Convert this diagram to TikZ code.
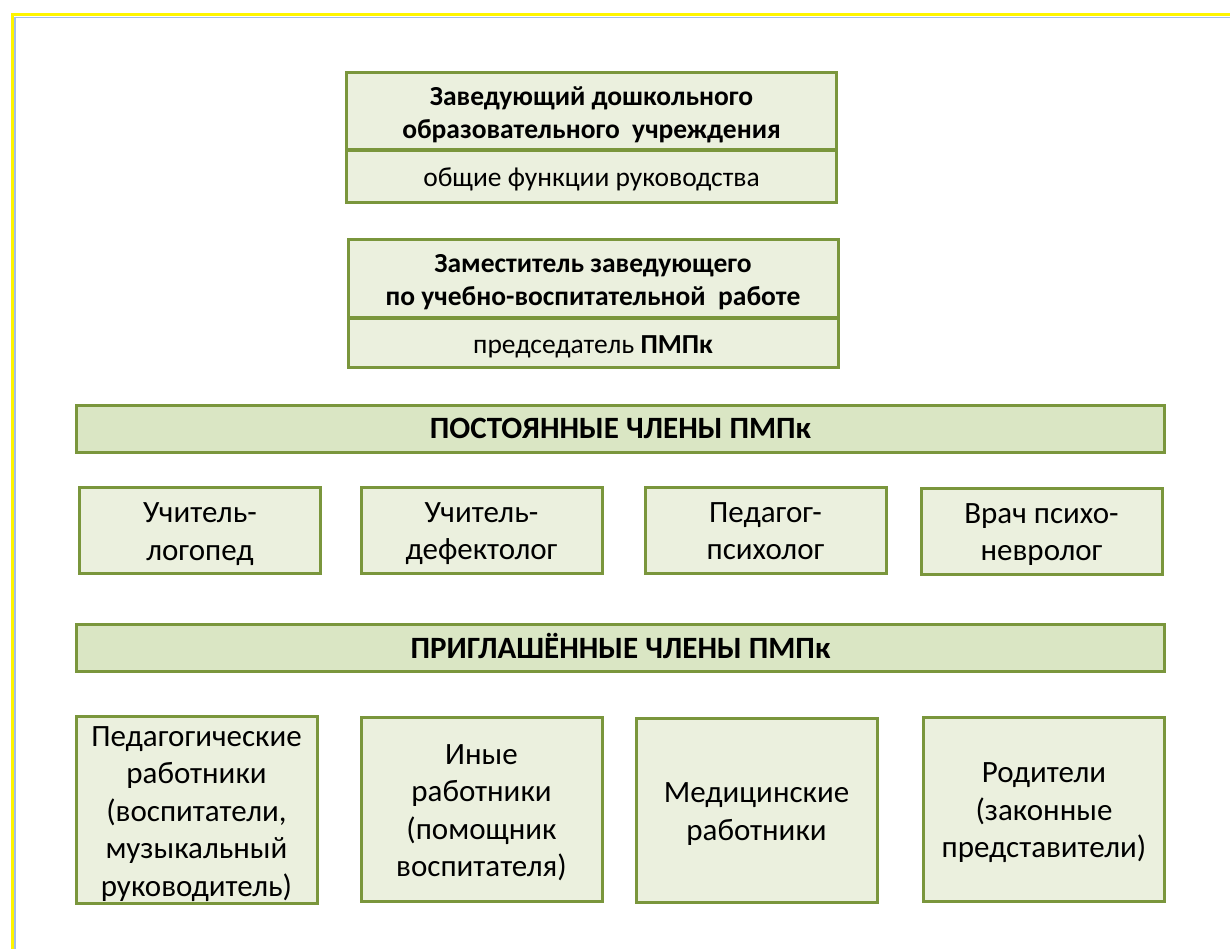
\documentclass[tikz,border=0pt]{standalone}
\usepackage{fontspec}
\setmainfont{Carlito}
\definecolor{pmpkline}{RGB}{122,150,60}
\definecolor{pmpkfill}{RGB}{235,240,222}
\definecolor{barfill}{RGB}{218,230,196}
\definecolor{frameyellow}{RGB}{255,245,0}
\definecolor{frameblue}{RGB}{165,190,230}
% lines of a cell, centred; optional argument lowers them
\newcommand{\celltext}[2][3.5pt]{\raisebox{-#1}[\height][\depth]{\begin{tabular}{@{}c@{}}#2\end{tabular}}}
\tikzset{
  cell/.style={draw=pmpkline, fill=pmpkfill, line width=3pt, inner sep=0pt,
    font=\fontsize{31}{37.5}\selectfont},
  headcell/.style={cell, minimum width=490pt, font=\bfseries\fontsize{27.5}{33}\selectfont},
  subcell/.style={cell, minimum width=490pt, font=\fontsize{27.5}{33}\selectfont},
  bar/.style={cell, fill=barfill, minimum width=1088pt, minimum height=47pt,
    font=\bfseries\fontsize{31}{33}\selectfont},
  member/.style={cell, minimum width=241pt, minimum height=86pt},
  guest/.style={cell, minimum width=241pt, minimum height=184pt},
}
\begin{document}
\begin{tikzpicture}[x=1pt,y=1pt,yscale=-1]
\useasboundingbox (0,0) rectangle (1230,949);

%frame
\draw [frameblue, line width=1.5pt] (15,949) -- (15,17.5) -- (1230,17.5);
\draw [frameyellow, line width=2.5pt] (12.5,949) -- (12.5,14.5) -- (1230,14.5);

%head
\node [headcell, minimum height=77pt] (zav) at (591.5,111) {\celltext[4pt]{Заведующий дошкольного\\образовательного~ учреждения}};
\node [subcell, minimum height=52pt] (zavfn) at (591.5,176.5) {\celltext{общие функции руководства}};
\node [headcell, minimum height=77pt] (zam) at (593,278.5) {\celltext[4pt]{Заместитель заведующего\\по учебно-воспитательной~ работе}};
\node [subcell, minimum height=49pt] (zamfn) at (593,343) {\celltext{председатель \textbf{ПМПк}}};

%permanent members
\node [bar] (perm) at (620.5,428.5) {\celltext{ПОСТОЯННЫЕ ЧЛЕНЫ ПМПк}};
\node [member] (logo) at (200,530.5) {\celltext{Учитель-\\логопед}};
\node [member] (defe) at (481.5,530) {\celltext{Учитель-\\дефектолог}};
\node [member] (psych) at (765.5,530) {\celltext{Педагог-\\психолог}};
\node [member] (neuro) at (1041.5,531) {\celltext{Врач психо-\\невролог}};

%invited members
\node [bar] (inv) at (620.5,647.5) {\celltext{ПРИГЛАШЁННЫЕ ЧЛЕНЫ ПМПк}};
\node [guest] (ped) at (196.5,810) {\celltext{Педагогические\\работники\\(воспитатели,\\музыкальный\\руководитель)}};
\node [guest] (other) at (481.5,809.5) {\celltext{Иные\\работники\\(помощник\\воспитателя)}};
\node [guest] (med) at (756.5,810.5) {\celltext{Медицинские\\работники}};
\node [guest] (par) at (1044,809) {\celltext{Родители\\(законные\\представители)}};

\end{tikzpicture}
\end{document}
